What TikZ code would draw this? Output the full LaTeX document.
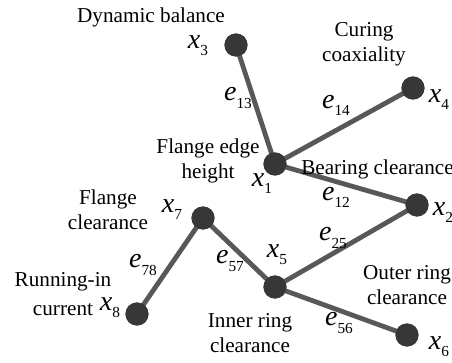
\documentclass[tikz,border=0pt]{standalone}
\usepackage{fontspec}
\setmainfont{Liberation Serif}
\usetikzlibrary{positioning}

\definecolor{nodegray}{RGB}{55,55,55}
\definecolor{linegray}{RGB}{88,88,88}

% variable with an upright index
\newcommand{\vlab}[2]{\textit{#1}\raisebox{-0.55ex}{\fontsize{11.5}{11.5}\selectfont #2}}

\tikzset{
  vert/.style={circle, fill=nodegray, minimum size=17.3pt, inner sep=0pt},
  link/.style={draw=linegray, line width=3.6pt},
  txt/.style={font=\fontsize{15.9}{18.5}\selectfont, align=center, inner sep=0pt},
  var/.style={font=\fontsize{21}{21}\selectfont, inner sep=0pt}
}

\begin{document}
\begin{tikzpicture}[x=0.75pt, y=-0.75pt]
        \useasboundingbox (0,0) rectangle (452,363);

        % factor nodes
        \node[vert] (x1) at (275,164) {};
        \node[vert] (x2) at (417,205) {};
        \node[vert] (x3) at (236,45) {};
        \node[vert] (x4) at (413,88) {};
        \node[vert] (x5) at (275,287) {};
        \node[vert] (x6) at (407,335) {};
        \node[vert] (x7) at (203,218) {};
        \node[vert] (x8) at (137,314) {};

        % links
        \draw[link] (x3.center) -- (x1.center);
        \draw[link] (x1.center) -- (x4.center);
        \draw[link] (x1.center) -- (x2.center);
        \draw[link] (x2.center) -- (x5.center);
        \draw[link] (x7.center) -- (x5.center);
        \draw[link] (x7.center) -- (x8.center);
        \draw[link] (x5.center) -- (x6.center);
        \foreach \v in {x1,x2,x3,x4,x5,x6,x7,x8}
            \fill[nodegray] (\v) circle (8.65pt);

        % factor names
        \node[txt] (dyn) at (151,17) {Dynamic balance};
        \node[txt] (cur) at (364,44) {Curing\\coaxiality};
        \node[txt] (fle) at (208,161) {Flange edge\\height};
        \node[txt, anchor=west] (bea) at (301,169) {Bearing clearance};
        \node[txt] (flc) at (108,210) {Flange\\clearance};
        \node[txt] (run) at (63,294) {Running-in\\[3pt]current};
        \node[txt] (inn) at (250,333) {Inner ring\\clearance};
        \node[txt] (out) at (407,285) {Outer ring\\clearance};

        % variable labels
        \node[var] (lx1) at (262,184) {\vlab{x}{1}};
        \node[var] (lx2) at (443,213) {\vlab{x}{2}};
        \node[var] (lx3) at (198,46) {\vlab{x}{3}};
        \node[var] (lx4) at (439,100) {\vlab{x}{4}};
        \node[var] (lx5) at (277,255) {\vlab{x}{5}};
        \node[var] (lx6) at (439,347) {\vlab{x}{6}};
        \node[var] (lx7) at (172,210) {\vlab{x}{7}};
        \node[var] (lx8) at (110,308) {\vlab{x}{8}};

        % link labels
        \node[var] (e13) at (238,98) {\vlab{e}{13}};
        \node[var] (e14) at (336,105) {\vlab{e}{14}};
        \node[var] (e12) at (336,197) {\vlab{e}{12}};
        \node[var] (e25) at (333,238) {\vlab{e}{25}};
        \node[var] (e57) at (230,261) {\vlab{e}{57}};
        \node[var] (e78) at (143,265) {\vlab{e}{78}};
        \node[var] (e56) at (339,323) {\vlab{e}{56}};
    \end{tikzpicture}
\end{document}
